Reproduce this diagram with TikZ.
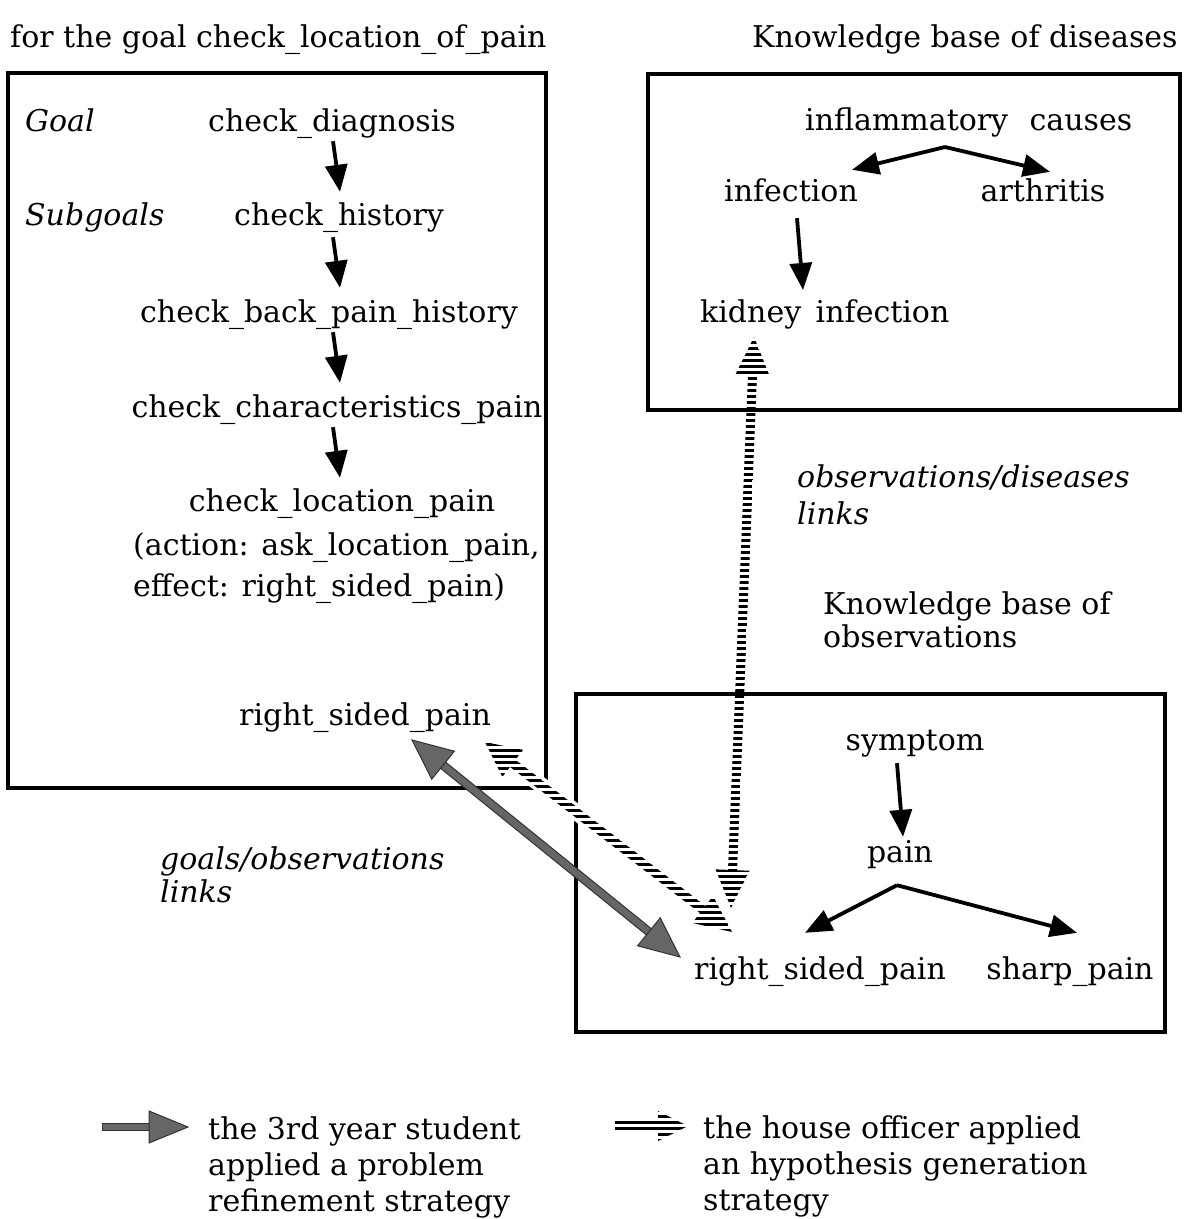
\documentclass[tikz,border=0pt]{standalone}
\usepackage{fontspec}
\setmainfont{DejaVu Serif}
\usetikzlibrary{calc,arrows.meta,patterns.meta}

% broad band between two points, used as the body of the fat arrows
\newcommand{\fatshaft}[4]{% style, end A, end B, half width
  \path[#1] ($(#2)!#4!90:(#3)$) -- ($(#2)!#4!-90:(#3)$)
    -- ($(#3)!#4!90:(#2)$) -- ($(#3)!#4!-90:(#2)$) -- cycle;}
% triangular head with its tip at #2, pointing away from #3
\newcommand{\fathead}[5]{% style, tip, toward, length, half width
  \coordinate (fh-base) at ($(#2)!#4!(#3)$);
  \path[#1] (#2) -- ($(fh-base)!#5!90:(#2)$) -- ($(fh-base)!#5!-90:(#2)$) -- cycle;}

\tikzset{
  txt/.style={inner sep=0pt, text height=25pt, text depth=10pt,
    font=\fontsize{30}{36}\selectfont},
  itxt/.style={txt, font=\fontsize{30}{36}\selectfont\itshape},
  kbox/.style={draw, line width=3.2pt},
  arr/.style={line width=3.8pt, -{Triangle[length=27pt,width=22pt]}},
  stripes/.style={pattern={Lines[angle=0,distance=6pt,line width=3pt]}},
  halftone/.style={fill=black!60, draw=black!80, line width=1pt},
}

\begin{document}
\begin{tikzpicture}[x=1pt, y=-1pt]
\useasboundingbox (0,0) rectangle (1196,1219);

% headings
\node[txt, anchor=base west] (ttl) at (10,47) {for the goal check\_location\_of\_pain};
\node[txt, anchor=base west] (kbd) at (752,47) {Knowledge base of diseases};

% the three knowledge boxes
\draw[kbox] (8,73) rectangle (546,788);
\draw[kbox] (648,74) rectangle (1180,410);
\draw[kbox] (576,694) rectangle (1165,1032);

% goal hierarchy
\node[itxt, anchor=base west] (goal) at (25,131) {Goal};
\node[txt, anchor=base] (cd) at (332,131) {check\_diagnosis};
\node[itxt, anchor=base west] (subg) at (25,225) {Subgoals};
\node[txt, anchor=base] (ch) at (339,225) {check\_history};
\node[txt, anchor=base] (cbp) at (329,322) {check\_back\_pain\_history};
\node[txt, anchor=base] (cc) at (337,417) {check\_characteristics\_pain};
\node[txt, anchor=base] (cl) at (342,511) {check\_location\_pain};
\node[txt, anchor=base west] (act) at (133,555) {(action: ask\_location\_pain,};
\node[txt, anchor=base west] (eff) at (133,596) {effect: right\_sided\_pain)};
\node[txt, anchor=base] (rsp1) at (365,725) {right\_sided\_pain};

\draw[arr] ([xshift=1pt]cd.south) -- ([xshift=1pt,yshift=8pt]ch.north);
\draw[arr] ([xshift=-6pt,yshift=-2pt]ch.south) -- ([xshift=11pt,yshift=9pt]cbp.north);
\draw[arr] ([xshift=4pt]cbp.south) -- ([xshift=3pt,yshift=9pt]cc.north);
\draw[arr] ([xshift=-4pt]cc.south) -- ([xshift=-2pt,yshift=8pt]cl.north);

% diseases
\node[txt, anchor=base west] (ic) at (805,130) {inflammatory\hspace{12pt} causes};
\node[txt, anchor=base] (inf) at (791,201) {infection};
\node[txt, anchor=base] (art) at (1043,201) {arthritis};
\node[txt, anchor=base west] (ki) at (700,322) {kidney\hspace{5pt} infection};

\coordinate (icapex) at (945,147);
\draw[arr] (icapex) -- ([xshift=61pt,yshift=6pt]inf.north);
\draw[arr] (icapex) -- ([xshift=7pt,yshift=4pt]art.north);
\draw[arr] ([xshift=6pt,yshift=-7pt]inf.south) -- (803,290);

% observations
\node[txt, anchor=base] (sym) at (915,750) {symptom};
\node[txt, anchor=base] (pain) at (900,862) {pain};
\node[txt, anchor=base] (rsp2) at (820,979) {right\_sided\_pain};
\node[txt, anchor=base] (shp) at (1070,979) {sharp\_pain};

\draw[arr] ([xshift=-18pt,yshift=-3pt]sym.south) -- ([xshift=3pt]pain.north);
\coordinate (painapex) at ([xshift=-3pt,yshift=-13pt]pain.south);
\draw[arr] (painapex) -- ([xshift=-15pt,yshift=21pt]rsp2.north);
\draw[arr] (painapex) -- ([xshift=7pt,yshift=21pt]shp.north);

% link labels
\node[itxt, anchor=base west] (odl1) at (797,487) {observations/diseases};
\node[itxt, anchor=base west] (odl2) at (797,524) {links};
\node[txt, anchor=base west] (kbo1) at (823,614) {Knowledge base of};
\node[txt, anchor=base west] (kbo2) at (823,647) {observations};
\node[itxt, anchor=base west] (gol1) at (160,869) {goals/observations};
\node[itxt, anchor=base west] (gol2) at (160,902) {links};

% hypothesis generation link: kidney infection <-> right_sided_pain
\coordinate (vtop) at (754,337);
\coordinate (vbot) at (731,908);
\coordinate (vtopb) at ($(vtop)!37pt!(vbot)$);
\coordinate (vbotb) at ($(vbot)!37pt!(vtop)$);
\fatshaft{stripes}{vtopb}{vbotb}{4.5pt}
\fathead{stripes}{vtop}{vbot}{38pt}{17pt}
\fathead{stripes}{vbot}{vtop}{38pt}{17pt}

% hypothesis generation link: right_sided_pain <-> right_sided_pain
\coordinate (dtop) at (485,742);
\coordinate (dbot) at (732,932);
\coordinate (dtopb) at ($(dtop)!34pt!(dbot)$);
\coordinate (dbotb) at ($(dbot)!36pt!(dtop)$);
\fatshaft{fill=white}{dtopb}{dbotb}{8pt}
\fatshaft{stripes}{dtopb}{dbotb}{4.5pt}
\fathead{stripes}{dtop}{dbot}{35pt}{17pt}
\fathead{stripes}{dbot}{dtop}{37pt}{17pt}

% problem refinement link
\coordinate (gtop) at (412,740);
\coordinate (gbot) at (680,957);
\coordinate (gtopb) at ($(gtop)!38pt!(gbot)$);
\coordinate (gbotb) at ($(gbot)!38pt!(gtop)$);
\fatshaft{halftone}{gtopb}{gbotb}{4pt}
\fathead{halftone}{gtop}{gbot}{40pt}{18pt}
\fathead{halftone}{gbot}{gtop}{40pt}{18pt}

% legend
\coordinate (l1a) at (102,1127);
\coordinate (l1b) at (188,1127);
\coordinate (l1m) at ($(l1b)!39pt!(l1a)$);
\fatshaft{halftone}{l1a}{l1m}{3.5pt}
\fathead{halftone}{l1b}{l1a}{39pt}{16pt}
\node[txt, anchor=base west] (lg1a) at (208,1139) {the 3rd year student};
\node[txt, anchor=base west] (lg1b) at (208,1175) {applied a problem};
\node[txt, anchor=base west] (lg1c) at (208,1211) {refinement strategy};

\coordinate (l2a) at (615,1126);
\coordinate (l2b) at (688,1126);
\coordinate (l2m) at ($(l2b)!30pt!(l2a)$);
\fatshaft{stripes}{l2a}{l2m}{4.5pt}
\fathead{stripes}{l2b}{l2a}{30pt}{15pt}
\node[txt, anchor=base west] (lg2a) at (703,1138) {the house officer applied};
\node[txt, anchor=base west] (lg2b) at (703,1174) {an hypothesis generation};
\node[txt, anchor=base west] (lg2c) at (703,1210) {strategy};
\end{tikzpicture}
\end{document}
